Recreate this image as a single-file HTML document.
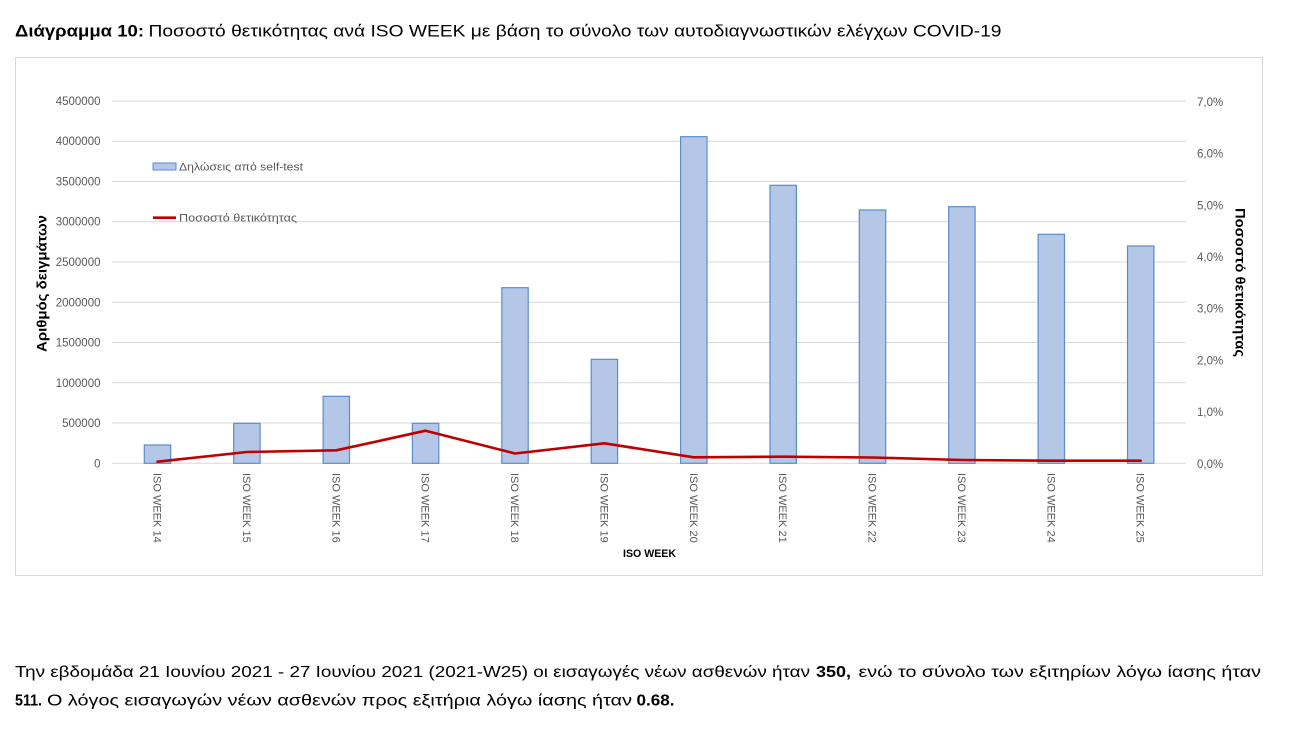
<!DOCTYPE html>
<html>
<head>
<meta charset="utf-8">
<style>
  html, body { margin: 0; padding: 0; background: #ffffff; }
  body { width: 1300px; height: 736px; overflow: hidden; }
  svg { display: block; }
  .t { font-family: "Liberation Sans", "DejaVu Sans", sans-serif; }
</style>
</head>
<body>
<svg width="1300" height="736" viewBox="0 0 1300 736" xmlns="http://www.w3.org/2000/svg">
  <rect x="0" y="0" width="1300" height="736" fill="#ffffff"/>

  <!-- Title -->
  <text class="t" x="15" y="36.5" font-size="17" font-weight="bold" fill="#000" textLength="129" lengthAdjust="spacingAndGlyphs">Διάγραμμα 10:</text>
  <text class="t" x="148.5" y="36.5" font-size="17" fill="#000" textLength="853" lengthAdjust="spacingAndGlyphs">Ποσοστό θετικότητας ανά ISO WEEK με βάση το σύνολο των αυτοδιαγνωστικών ελέγχων COVID-19</text>

  <!-- Chart border -->
  <rect x="15.5" y="57.5" width="1247" height="518" fill="#ffffff" stroke="#d9d9d9" stroke-width="1"/>

  <!-- Gridlines -->
  <g stroke="#d9d9d9" stroke-width="1">
    <line x1="112" y1="100.96" x2="1186" y2="100.96"/>
    <line x1="112" y1="141.22" x2="1186" y2="141.22"/>
    <line x1="112" y1="181.48" x2="1186" y2="181.48"/>
    <line x1="112" y1="221.74" x2="1186" y2="221.74"/>
    <line x1="112" y1="262" x2="1186" y2="262"/>
    <line x1="112" y1="302.26" x2="1186" y2="302.26"/>
    <line x1="112" y1="342.52" x2="1186" y2="342.52"/>
    <line x1="112" y1="382.78" x2="1186" y2="382.78"/>
    <line x1="112" y1="423.04" x2="1186" y2="423.04"/>
    <line x1="112" y1="463.3" x2="1186" y2="463.3"/>
  </g>

  <!-- Left tick labels -->
  <g class="t" font-size="11.5" fill="#595959" text-anchor="end">
    <text x="100.5" y="105">4500000</text>
    <text x="100.5" y="145.2">4000000</text>
    <text x="100.5" y="185.5">3500000</text>
    <text x="100.5" y="225.7">3000000</text>
    <text x="100.5" y="266">2500000</text>
    <text x="100.5" y="306.3">2000000</text>
    <text x="100.5" y="346.5">1500000</text>
    <text x="100.5" y="386.8">1000000</text>
    <text x="100.5" y="427">500000</text>
    <text x="100.5" y="467.3">0</text>
  </g>

  <!-- Right tick labels -->
  <g class="t" font-size="11.5" fill="#595959">
    <text x="1197" y="105.9">7,0%</text>
    <text x="1197" y="157.6">6,0%</text>
    <text x="1197" y="209.3">5,0%</text>
    <text x="1197" y="261">4,0%</text>
    <text x="1197" y="312.7">3,0%</text>
    <text x="1197" y="364.4">2,0%</text>
    <text x="1197" y="416.1">1,0%</text>
    <text x="1197" y="467.8">0,0%</text>
  </g>

  <!-- Bars -->
  <g fill="#b4c7e7" stroke="#5b8ccc" stroke-width="1.2">
    <rect x="144.3" y="445" width="26.4" height="18.3"/>
    <rect x="233.7" y="423.3" width="26.4" height="40"/>
    <rect x="323.1" y="396.3" width="26.4" height="67"/>
    <rect x="412.4" y="423.3" width="26.4" height="40"/>
    <rect x="501.8" y="287.7" width="26.4" height="175.6"/>
    <rect x="591.2" y="359.3" width="26.4" height="104"/>
    <rect x="680.6" y="136.7" width="26.4" height="326.6"/>
    <rect x="770" y="185.3" width="26.4" height="278"/>
    <rect x="859.3" y="210" width="26.4" height="253.3"/>
    <rect x="948.7" y="206.7" width="26.4" height="256.6"/>
    <rect x="1038.1" y="234.3" width="26.4" height="229"/>
    <rect x="1127.5" y="246" width="26.4" height="217.3"/>
  </g>

  <!-- Line -->
  <polyline fill="none" stroke="#c00000" stroke-width="2.6" stroke-linejoin="round" stroke-linecap="round"
    points="157.5,461.7 246.9,452 336.3,450.3 425.6,430.7 515,453.5 604.4,443.3 693.8,457.3 783.2,456.7 872.5,457.5 961.9,460 1051.3,460.7 1140.7,460.7"/>

  <!-- X labels (rotated) -->
  <g class="t" font-size="11" fill="#595959">
    <text transform="translate(153.5,473) rotate(90)">ISO WEEK 14</text>
    <text transform="translate(242.9,473) rotate(90)">ISO WEEK 15</text>
    <text transform="translate(332.3,473) rotate(90)">ISO WEEK 16</text>
    <text transform="translate(421.6,473) rotate(90)">ISO WEEK 17</text>
    <text transform="translate(511,473) rotate(90)">ISO WEEK 18</text>
    <text transform="translate(600.4,473) rotate(90)">ISO WEEK 19</text>
    <text transform="translate(689.8,473) rotate(90)">ISO WEEK 20</text>
    <text transform="translate(779.2,473) rotate(90)">ISO WEEK 21</text>
    <text transform="translate(868.5,473) rotate(90)">ISO WEEK 22</text>
    <text transform="translate(957.9,473) rotate(90)">ISO WEEK 23</text>
    <text transform="translate(1047.3,473) rotate(90)">ISO WEEK 24</text>
    <text transform="translate(1136.7,473) rotate(90)">ISO WEEK 25</text>
  </g>

  <!-- X axis title -->
  <text class="t" x="649.5" y="557" font-size="11" font-weight="bold" fill="#000" text-anchor="middle" textLength="53" lengthAdjust="spacingAndGlyphs">ISO WEEK</text>

  <!-- Y axis titles -->
  <text class="t" transform="translate(46.5,283.5) rotate(-90)" font-size="13.5" font-weight="bold" fill="#000" text-anchor="middle" textLength="137" lengthAdjust="spacingAndGlyphs">Αριθμός δειγμάτων</text>
  <text class="t" transform="translate(1235.5,282.5) rotate(90)" font-size="13.5" font-weight="bold" fill="#000" text-anchor="middle" textLength="149" lengthAdjust="spacingAndGlyphs">Ποσοστό θετικότητας</text>

  <!-- Legend -->
  <rect x="153" y="163" width="23" height="7" fill="#b4c7e7" stroke="#5b8ccc" stroke-width="1"/>
  <text class="t" x="179" y="170.5" font-size="11" fill="#595959" textLength="124" lengthAdjust="spacingAndGlyphs">Δηλώσεις από self-test</text>
  <line x1="153" y1="217.7" x2="176" y2="217.7" stroke="#c00000" stroke-width="2.6"/>
  <text class="t" x="179" y="221.5" font-size="11" fill="#595959" textLength="118" lengthAdjust="spacingAndGlyphs">Ποσοστό θετικότητας</text>

  <!-- Bottom paragraph -->
  <text class="t" x="15" y="677" font-size="16" fill="#000" textLength="795" lengthAdjust="spacingAndGlyphs">Την εβδομάδα 21 Ιουνίου 2021 - 27 Ιουνίου 2021 (2021-W25) οι εισαγωγές νέων ασθενών ήταν</text>
  <text class="t" x="816" y="677" font-size="16" font-weight="bold" fill="#000" textLength="35" lengthAdjust="spacingAndGlyphs">350,</text>
  <text class="t" x="858.5" y="677" font-size="16" fill="#000" textLength="402.5" lengthAdjust="spacingAndGlyphs">ενώ το σύνολο των εξιτηρίων λόγω ίασης ήταν</text>

  <text class="t" x="15" y="705.5" font-size="16" font-weight="bold" fill="#000" textLength="27" lengthAdjust="spacingAndGlyphs">511.</text>
  <text class="t" x="47" y="705.5" font-size="16" fill="#000" textLength="585" lengthAdjust="spacingAndGlyphs">Ο λόγος εισαγωγών νέων ασθενών προς εξιτήρια λόγω ίασης ήταν</text>
  <text class="t" x="636.5" y="705.5" font-size="16" font-weight="bold" fill="#000" textLength="38" lengthAdjust="spacingAndGlyphs">0.68.</text>
</svg>
</body>
</html>
